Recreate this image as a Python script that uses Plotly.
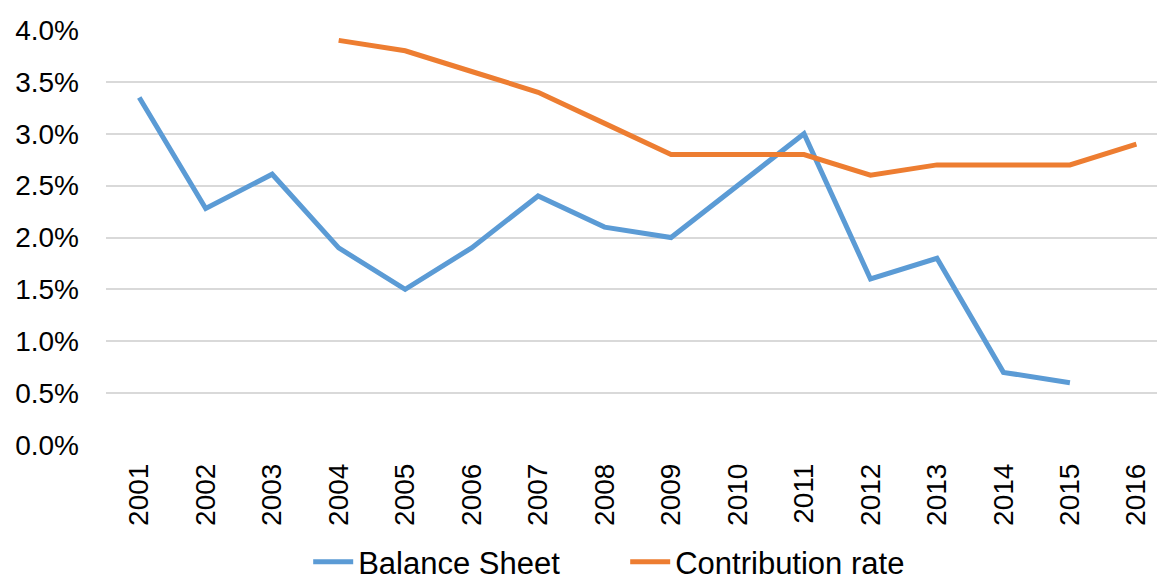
import plotly.graph_objects as go

years = ["2001", "2002", "2003", "2004", "2005", "2006", "2007", "2008",
         "2009", "2010", "2011", "2012", "2013", "2014", "2015", "2016"]
balance_sheet = [0.0335, 0.0228, 0.0261, 0.019, 0.015, 0.019, 0.024, 0.021,
                 0.020, 0.025, 0.030, 0.016, 0.018, 0.007, 0.006, None]
contribution_rate = [None, None, None, 0.039, 0.038, 0.036, 0.034, 0.031,
                     0.028, 0.028, 0.028, 0.026, 0.027, 0.027, 0.027, 0.029]
y_ticks = [0, 0.005, 0.01, 0.015, 0.02, 0.025, 0.03, 0.035, 0.04]

FONT = "Liberation Sans, Arial, sans-serif"

fig = go.Figure()
fig.add_trace(go.Scatter(x=years, y=balance_sheet, mode="lines", name="Balance Sheet",
                         line=dict(color="#5b9bd5", width=5), connectgaps=False))
fig.add_trace(go.Scatter(x=years, y=contribution_rate, mode="lines", name="Contribution rate",
                         line=dict(color="#ed7d31", width=5), connectgaps=False))

fig.update_layout(
    width=1157, height=583,
    margin=dict(l=106, r=0, t=30, b=138, autoexpand=False),
    paper_bgcolor="white", plot_bgcolor="white",
    font=dict(family=FONT, color="black"),
    showlegend=True,
    legend=dict(orientation="h", x=0.494, xanchor="center", y=-0.282, yanchor="middle",
                font=dict(size=31, family=FONT), itemwidth=40,
                entrywidth=262, entrywidthmode="pixels",
                bgcolor="rgba(0,0,0,0)"),
    xaxis=dict(type="category", range=[-0.5, 15.31], showgrid=False, showline=False,
               zeroline=False, ticks="", tickangle=-90, tickfont=dict(size=28),
               ticklabelstandoff=12, automargin=False),
    yaxis=dict(range=[0, 0.04], tickvals=y_ticks, tickformat=".1%", showgrid=True,
               gridcolor="#d9d9d9", gridwidth=2, zeroline=False, showline=False,
               ticks="", tickfont=dict(size=28), ticklabelstandoff=26, automargin=False),
)

fig.write_html("out.html", config={"displayModeBar": False},
               post_script="document.body.style.margin='0';document.body.style.overflow='hidden';")
